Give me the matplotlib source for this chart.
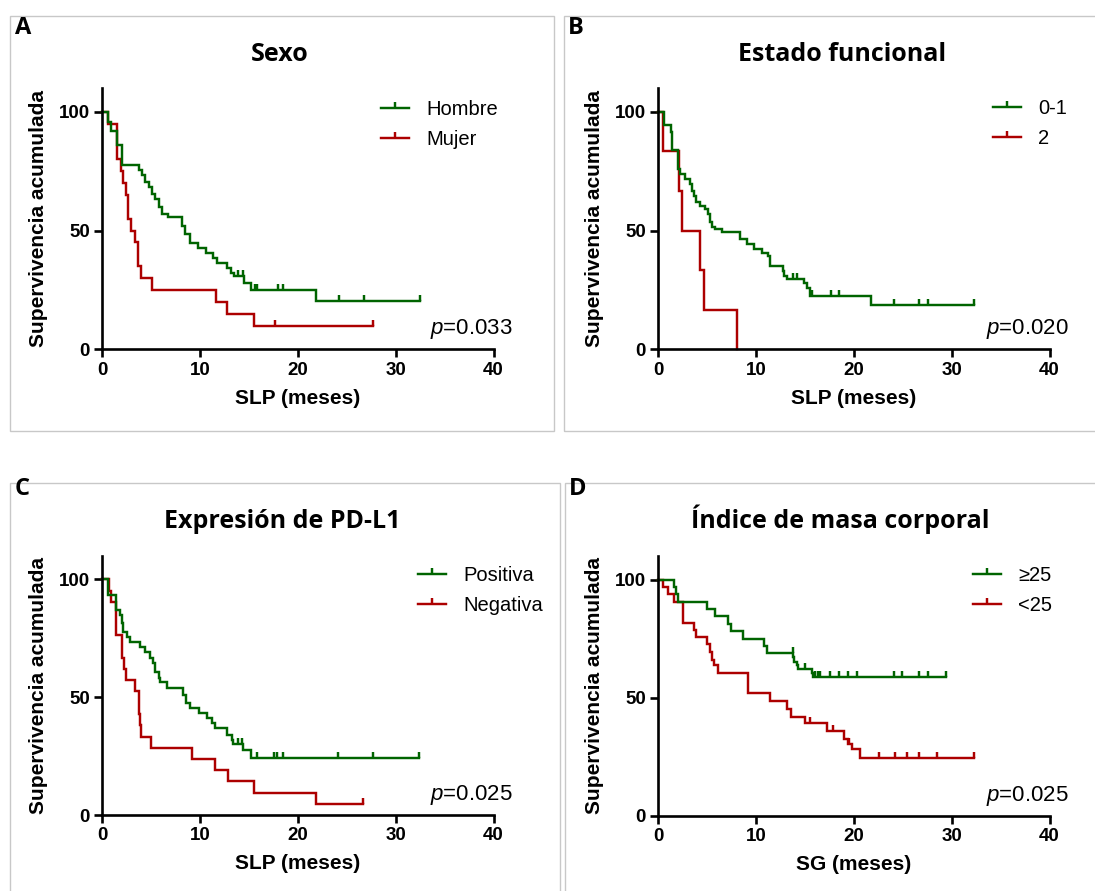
import numpy as np
import matplotlib
matplotlib.use('Agg')
import matplotlib.pyplot as plt
from matplotlib.lines import Line2D
from matplotlib.patches import Rectangle

plt.rcParams['font.family'] = ['Liberation Sans', 'DejaVu Sans']
plt.rcParams['mathtext.fontset'] = 'custom'
plt.rcParams['mathtext.it'] = 'Liberation Sans:italic'
plt.rcParams['mathtext.rm'] = 'Liberation Sans'

GREEN = '#006400'
RED = '#ac0000'

# ---------------- Kaplan-Meier data (time in months, survival in %) ----------------
# A: Sexo (SLP)
a_hombre_t = [0.6, 0.9, 1.5, 2.0, 3.8, 4.1, 4.4, 4.8, 5.1, 5.4, 5.8, 6.1, 6.7, 8.2, 8.5,
              9.0, 9.8, 10.6, 11.3, 11.7, 12.8, 13.2, 13.5, 14.5, 15.2, 21.9]
a_hombre_s = [95.8, 91.8, 85.9, 77.4, 75.3, 73.2, 70.3, 68.2, 65.4, 63.3, 59.7, 56.9, 55.5,
              52.0, 48.4, 44.9, 42.8, 40.7, 38.6, 36.4, 34.3, 32.2, 30.8, 28.0, 25.1, 20.2]
a_hombre_c = [13.9, 14.4, 15.6, 15.8, 18.0, 18.5, 24.2, 26.8, 32.5]
a_mujer_t = [0.6, 1.5, 1.9, 2.15, 2.4, 2.65, 2.9, 3.3, 3.7, 4.0, 5.1, 11.6, 12.7, 15.55]
a_mujer_s = [95, 80, 75, 70, 65, 55, 50, 45, 35, 30, 25, 20, 15, 10]
a_mujer_c = [17.7, 27.7]

# B: Estado funcional (SLP)
b_01_t = [0.6, 1.25, 1.45, 2.05, 2.2, 2.7, 3.25, 3.4, 3.6, 3.85, 4.3, 4.8, 5.1, 5.3, 5.45,
          5.8, 6.5, 8.35, 9.05, 9.75, 10.6, 11.25, 11.45, 12.75, 12.9, 13.15, 14.9, 15.2,
          15.55, 21.7]
b_01_s = [94.4, 91.5, 83.8, 76.0, 73.9, 71.8, 69.6, 66.8, 64.7, 61.9, 60.5, 59.0, 56.9,
          53.4, 51.3, 50.6, 49.2, 46.3, 44.2, 42.1, 40.7, 39.3, 35.0, 32.9, 30.8, 29.4,
          28.0, 25.8, 22.3, 18.8]
b_01_c = [13.75, 14.15, 15.7, 17.65, 18.45, 24.15, 26.7, 27.55, 32.3]
b_2_t = [0.45, 2.15, 2.4, 4.27, 4.71, 8.0]
b_2_s = [83.3, 66.7, 50.0, 33.3, 16.7, 0.0]
b_2_c = []

# C: Expresión de PD-L1 (SLP)
c_pos_t = [0.6, 1.4, 1.8, 2.0, 2.1, 2.5, 2.85, 3.9, 4.35, 4.9, 5.15, 5.4, 5.75, 5.9, 6.65,
           8.3, 8.55, 9.0, 9.85, 10.7, 11.2, 11.55, 12.75, 13.25, 13.35, 14.35, 15.2]
c_pos_s = [93.4, 87.0, 84.9, 81.3, 77.8, 75.7, 73.6, 71.4, 69.3, 66.5, 64.4, 60.8, 58.0,
           56.6, 54.0, 50.9, 47.4, 45.3, 43.1, 41.0, 38.9, 36.8, 33.9, 31.8, 30.0, 27.6, 24.3]
c_pos_c = [13.85, 14.25, 15.8, 17.6, 17.85, 18.45, 24.15, 27.7, 32.35]
c_neg_t = [0.7, 0.85, 1.4, 2.05, 2.2, 2.4, 3.3, 3.75, 3.85, 4.0, 5.0, 9.15, 11.55, 12.9,
           15.55, 21.9]
c_neg_s = [95.2, 90.5, 76.2, 66.7, 61.9, 57.1, 52.4, 42.9, 38.1, 33.3, 28.6, 23.8, 19.0,
           14.3, 9.5, 4.8]
c_neg_c = [26.7]

# D: Índice de masa corporal (SG)
d_hi_t = [1.65, 1.8, 2.05, 4.95, 5.75, 7.15, 7.4, 8.65, 10.8, 11.15, 13.8, 13.9, 14.15,
          14.25, 15.7, 15.8]
d_hi_s = [96.9, 93.8, 90.6, 87.5, 84.4, 81.3, 78.1, 75.0, 71.9, 68.8, 67.3, 65.2, 63.8,
          62.1, 60.2, 58.8]
d_hi_c = [13.75, 15.0, 16.05, 16.3, 16.55, 17.6, 18.5, 19.4, 20.3, 24.05, 24.9, 26.7,
          27.55, 29.45]
d_lo_t = [0.5, 1.0, 1.6, 2.55, 3.7, 3.85, 5.0, 5.3, 5.45, 5.65, 6.15, 9.2, 11.45, 13.15,
          13.55, 15.0, 17.25, 19.0, 19.35, 19.8, 20.65]
d_lo_s = [96.9, 94.1, 90.5, 81.8, 78.6, 75.7, 72.6, 69.4, 65.9, 63.8, 60.6, 51.8, 48.5,
          45.1, 41.9, 39.1, 36.0, 32.3, 30.3, 28.1, 24.3]
d_lo_c = [15.55, 17.85, 19.5, 22.6, 24.25, 25.45, 26.7, 28.5, 32.25]

titles = ['Sexo', 'Estado funcional', 'Expresión de PD-L1', 'Índice de masa corporal']
letters = ['A', 'B', 'C', 'D']
xlabels = ['SLP (meses)', 'SLP (meses)', 'SLP (meses)', 'SG (meses)']
legend_labels = [['Hombre', 'Mujer'], ['0-1', '2'], ['Positiva', 'Negativa'], ['≥25', '<25']]
pvalues = ['0.033', '0.020', '0.025', '0.025']
x_ticks = [0, 10, 20, 30, 40]
y_ticks = [0, 50, 100]

curves = [
    [(a_hombre_t, a_hombre_s, a_hombre_c), (a_mujer_t, a_mujer_s, a_mujer_c)],
    [(b_01_t, b_01_s, b_01_c), (b_2_t, b_2_s, b_2_c)],
    [(c_pos_t, c_pos_s, c_pos_c), (c_neg_t, c_neg_s, c_neg_c)],
    [(d_hi_t, d_hi_s, d_hi_c), (d_lo_t, d_lo_s, d_lo_c)],
]

# ---------------- layout (pixels) ----------------
W, H = 1095, 891
fig = plt.figure(figsize=(W / 100, H / 100), dpi=100)

def fx(px):
    return px / W

def fy(py):
    return 1 - py / H

# axes boxes: left, right, top(y=110), bottom(y=0) in pixels
axes_px = [(102.3, 493.5, 88.0, 349.3), (658.3, 1049.5, 88.0, 349.3),
           (102.3, 493.5, 555.7, 815.0), (658.3, 1049.5, 556.0, 815.5)]
# panel frames: left, right, top, bottom in pixels
frames_px = [(10, 554, 16, 431), (564, 1110, 16, 431),
             (10, 560, 483, 905), (565, 1110, 483, 905)]
title_px = [(280, 61), (842, 61), (282, 528), (840, 528)]
letter_px = [(15, 34), (568, 34), (15, 495), (569, 495)]
legend_anchor = [(0.712, 0.861), (0.856, 0.864), (0.807, 0.867), (0.804, 0.868)]

LW = 1.75
SPW = 1.9


def km_curve(ax, times, surv, censor, color):
    t = np.concatenate([[0.0], np.asarray(times, float)])
    s = np.concatenate([[100.0], np.asarray(surv, float)])
    if len(censor):
        end = max(max(censor), t[-1])
        t = np.append(t, end)
        s = np.append(s, s[-1])
    ax.step(t, s, where='post', color=color, lw=LW, clip_on=False,
            solid_joinstyle='miter')
    if len(censor):
        idx = np.searchsorted(t, censor, side='right') - 1
        ax.plot(censor, s[idx], ls='none', marker=2, ms=4.5, mew=LW,
                color=color, clip_on=False)


for i in range(4):
    x0, x1, y0, y1 = frames_px[i]
    fig.add_artist(Rectangle((fx(x0), fy(y1)), fx(x1) - fx(x0), fy(y0) - fy(y1),
                             transform=fig.transFigure, fill=False,
                             ec='#c8c8c8', lw=1.0, zorder=0))

    l, r, t, b = axes_px[i]
    ax = fig.add_axes([fx(l), fy(b), fx(r) - fx(l), fy(t) - fy(b)])
    ax.patch.set_visible(False)
    ax.set_xlim(0, 40)
    ax.set_ylim(0, 110)
    ax.set_xticks(x_ticks)
    ax.set_yticks(y_ticks)
    for sp in ['top', 'right']:
        ax.spines[sp].set_visible(False)
    for sp in ['left', 'bottom']:
        ax.spines[sp].set_linewidth(SPW)
    ax.tick_params(width=SPW, length=6, labelsize=13.5, pad=3)
    for lab in ax.get_xticklabels() + ax.get_yticklabels():
        lab.set_fontweight('bold')

    (gt, gs, gc), (rt, rs, rc) = curves[i]
    km_curve(ax, rt, rs, rc, RED)
    km_curve(ax, gt, gs, gc, GREEN)

    ax.set_xlabel(xlabels[i], fontsize=15, fontweight='bold', va='center')
    ax.xaxis.set_label_coords(0.5, -0.187)
    ax.set_ylabel('Supervivencia acumulada', fontsize=15, fontweight='bold',
                  va='center', ha='center')
    ax.yaxis.set_label_coords(-0.162, 0.5)

    handles = [Line2D([], [], color=c, lw=LW, marker=2, ms=4.5, mew=LW)
               for c in (GREEN, RED)]
    ax.legend(handles, legend_labels[i], loc='center left',
              bbox_to_anchor=legend_anchor[i], frameon=False, borderpad=0,
              borderaxespad=0, handlelength=1.4, handletextpad=0.85,
              labelspacing=0.55, numpoints=1,
              prop={'family': 'Liberation Sans', 'size': 14.5})

    ax.text(1.05, 0.077, r'$\mathit{p}$=' + pvalues[i], transform=ax.transAxes,
            ha='right', va='center', fontsize=16)

    tx, ty = title_px[i]
    fig.text(fx(tx), fy(ty), titles[i], ha='center', va='baseline', fontsize=18,
             fontweight='bold', family=['Open Sans', 'DejaVu Sans'])
    lx, ly = letter_px[i]
    fig.text(fx(lx), fy(ly), letters[i], ha='left', va='baseline', fontsize=17,
             fontweight='bold', family=['Open Sans', 'DejaVu Sans'])

fig.savefig('out.png', dpi=100)
